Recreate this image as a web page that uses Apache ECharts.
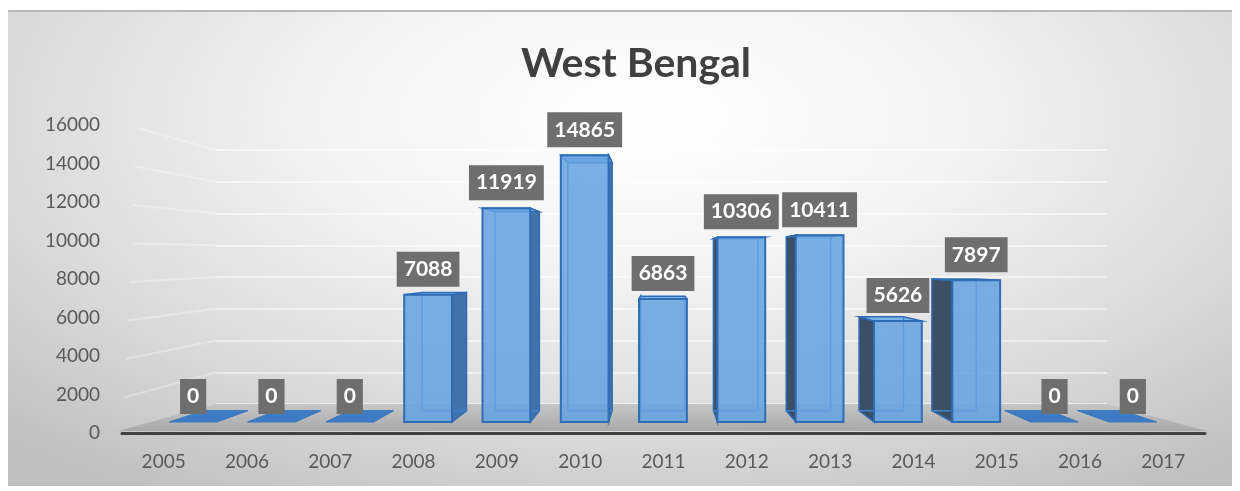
<!DOCTYPE html>
<html><head><meta charset="utf-8">
<script src="https://cdn.jsdelivr.net/npm/echarts@6/dist/echarts.min.js"></script>
<style>
html,body{margin:0;padding:0;background:#fff;}
#bg{position:absolute;left:8px;top:10px;width:1224px;height:476px;border-top:2px solid #b8b8b8;box-sizing:border-box;
background:radial-gradient(ellipse 75% 95% at 52% 22%, #ffffff 0%, #f3f3f3 35%, #dadada 70%, #bfbfbf 100%);}
#chart{position:absolute;left:0;top:0;width:1240px;height:491px;}
</style></head>
<body>
<div id="bg"></div>
<div id="chart"></div>
<script>
const years = ['2005','2006','2007','2008','2009','2010','2011','2012','2013','2014','2015','2016','2017'];
const values = [0, 0, 0, 7088, 11919, 14865, 6863, 10306, 10411, 5626, 7897, 0, 0];
const yTicks = [0, 2000, 4000, 6000, 8000, 10000, 12000, 14000, 16000];
const titleText = 'West Bengal';

const FONT = 'Lato';
const G0 = {left:122, right:35, top:125, bottom:58};   // front axes (labels)
const G1 = {left:216, right:133, top:150, bottom:87};  // back wall
const G2 = {left:154, right:68, top:135, bottom:69};   // bars

const chart = echarts.init(document.getElementById('chart'), null, {renderer:'canvas'});

function renderBar(params, api) {
  const i = api.value(0), v = api.value(1);
  const base = api.coord([i, 0]);
  const top = api.coord([i, v]);
  const w = api.size([1, 0])[0] * 0.61;
  const x0 = base[0] - w/2, x1 = base[0] + w/2, yB = base[1], yT = top[1];
  const cs = params.coordSys;
  const vx = cs.x + cs.width * 0.497, vy = cs.y + cs.height * 0.435;
  const k = 0.07;
  const bk = (x, y) => [x + k*(vx-x), y + k*(vy-y)];
  const fTL=[x0,yT], fTR=[x1,yT], fBR=[x1,yB], fBL=[x0,yB];
  const bTL=bk(x0,yT), bTR=bk(x1,yT), bBR=bk(x1,yB), bBL=bk(x0,yB);
  const children = [];
  const rightSide = base[0] < vx;
  const edge = '#2f6db4';
  if (v > 0) {
    const side = rightSide ? [fTR,bTR,bBR,fBR] : [fTL,bTL,bBL,fBL];
    children.push({type:'polygon', shape:{points:side}, style:{fill: rightSide ? '#4173aa' : '#3b4f66', stroke:edge, lineWidth:1.5}});
    children.push({type:'polygon', shape:{points:[fTL,fTR,bTR,bTL]}, style:{fill:'#7db4ea', stroke:edge, lineWidth:1.5}});
    const inner = rightSide ? [bTL, bBL] : [bTR, bBR];
    children.push({type:'polyline', shape:{points:inner}, style:{stroke:'#3f82cc', lineWidth:1.5, fill:null}});
    children.push({type:'polyline', shape:{points:[bBL,bBR]}, style:{stroke:'#3f82cc', lineWidth:1.5, fill:null}});
    children.push({type:'rect', shape:{x:x0, y:yT, width:w, height:yB-yT},
      style:{fill:'rgba(100,162,226,0.86)', stroke:edge, lineWidth:2}});
  } else {
    children.push({type:'polygon', shape:{points:[fBL,fBR,bBR,bBL]}, style:{fill:'#3d7cc4', stroke:'#3a76bd', lineWidth:1}});
  }
  return {type:'group', children};
}

const option = {
  animation: false,
  title: {
    text: titleText, left: 631, top: 38, textAlign: 'center',
    textStyle: {fontFamily: FONT, fontWeight: 'bold', fontSize: 41, color: '#404040'}
  },
  grid: [
    {left:G0.left, right:G0.right, top:G0.top, bottom:G0.bottom},
    {left:G1.left, right:G1.right, top:G1.top, bottom:G1.bottom},
    {left:G2.left, right:G2.right, top:G2.top, bottom:G2.bottom}
  ],
  xAxis: [
    {gridIndex:0, type:'category', data:years,
     axisLine:{lineStyle:{color:'#404040', width:3}}, axisTick:{show:false},
     axisLabel:{fontFamily:FONT, fontSize:19, color:'#595959', margin:19}},
    {gridIndex:1, type:'category', data:years, show:false},
    {gridIndex:2, type:'category', data:years, show:false}
  ],
  yAxis: [
    {gridIndex:0, type:'value', min:0, max:16000, interval:2000,
     axisLine:{show:false}, axisTick:{show:false}, splitLine:{show:false},
     axisLabel:{fontFamily:FONT, fontSize:19, color:'#595959', margin:22, formatter: v => String(v)}},
    {gridIndex:1, type:'value', min:0, max:16000, interval:2000,
     axisLine:{show:false}, axisTick:{show:false}, axisLabel:{show:false},
     splitLine:{lineStyle:{color:'rgba(255,255,255,0.5)', width:2}}},
    {gridIndex:2, type:'value', min:0, max:16000, interval:2000, show:false,
     splitLine:{show:false}}
  ],
  series: [
    {type:'custom', xAxisIndex:2, yAxisIndex:2, z:3,
     data: values.map((v, i) => [i, v]), renderItem: renderBar},
    {type:'bar', xAxisIndex:2, yAxisIndex:2, z:6, barWidth:'61%',
     data: values, itemStyle:{color:'rgba(0,0,0,0)'},
     label:{show:true, position:'top', distance:8, formatter:'{c}',
       fontFamily:FONT, fontWeight:'bold', fontSize:21, lineHeight:25, color:'#ffffff',
       backgroundColor:'#6e6e6e', padding:[5,7,5,7]}}
  ]
};
chart.setOption(option);

// floor and side-wall gridlines, placed through the axes' own scales
const step0 = chart.convertToPixel({xAxisIndex:0}, years[1]) - chart.convertToPixel({xAxisIndex:0}, years[0]);
const step1 = chart.convertToPixel({xAxisIndex:1}, years[1]) - chart.convertToPixel({xAxisIndex:1}, years[0]);
const yF0 = chart.convertToPixel({yAxisIndex:0}, 0);
const yB0 = chart.convertToPixel({yAxisIndex:1}, 0);
const x0L = chart.convertToPixel({xAxisIndex:0}, years[0]) - step0/2;
const x0R = chart.convertToPixel({xAxisIndex:0}, years[years.length-1]) + step0/2;
const x1L = chart.convertToPixel({xAxisIndex:1}, years[0]) - step1/2;
const x1R = chart.convertToPixel({xAxisIndex:1}, years[years.length-1]) + step1/2;
const graphics = [{
  type:'polygon', z:1, silent:true,
  shape:{points:[[x0L-4, yF0-2],[x0R+2, yF0-2],[x1R, yB0],[x1L, yB0]]},
  style:{fill:new echarts.graphic.LinearGradient(0,0,0,1,[{offset:0,color:'#c6c6c6'},{offset:1,color:'#a9a9a9'}])}
}];
yTicks.forEach(v => {
  if (v === 0) return;
  const yf = chart.convertToPixel({yAxisIndex:0}, v);
  const yb = chart.convertToPixel({yAxisIndex:1}, v);
  graphics.push({type:'line', z:0, silent:true,
    shape:{x1:x0L + 15*v/16000, y1:yf+3, x2:x1L, y2:yb},
    style:{stroke:'rgba(255,255,255,0.3)', lineWidth:2}});
});
chart.setOption({graphic: graphics});
</script>
</body></html>
